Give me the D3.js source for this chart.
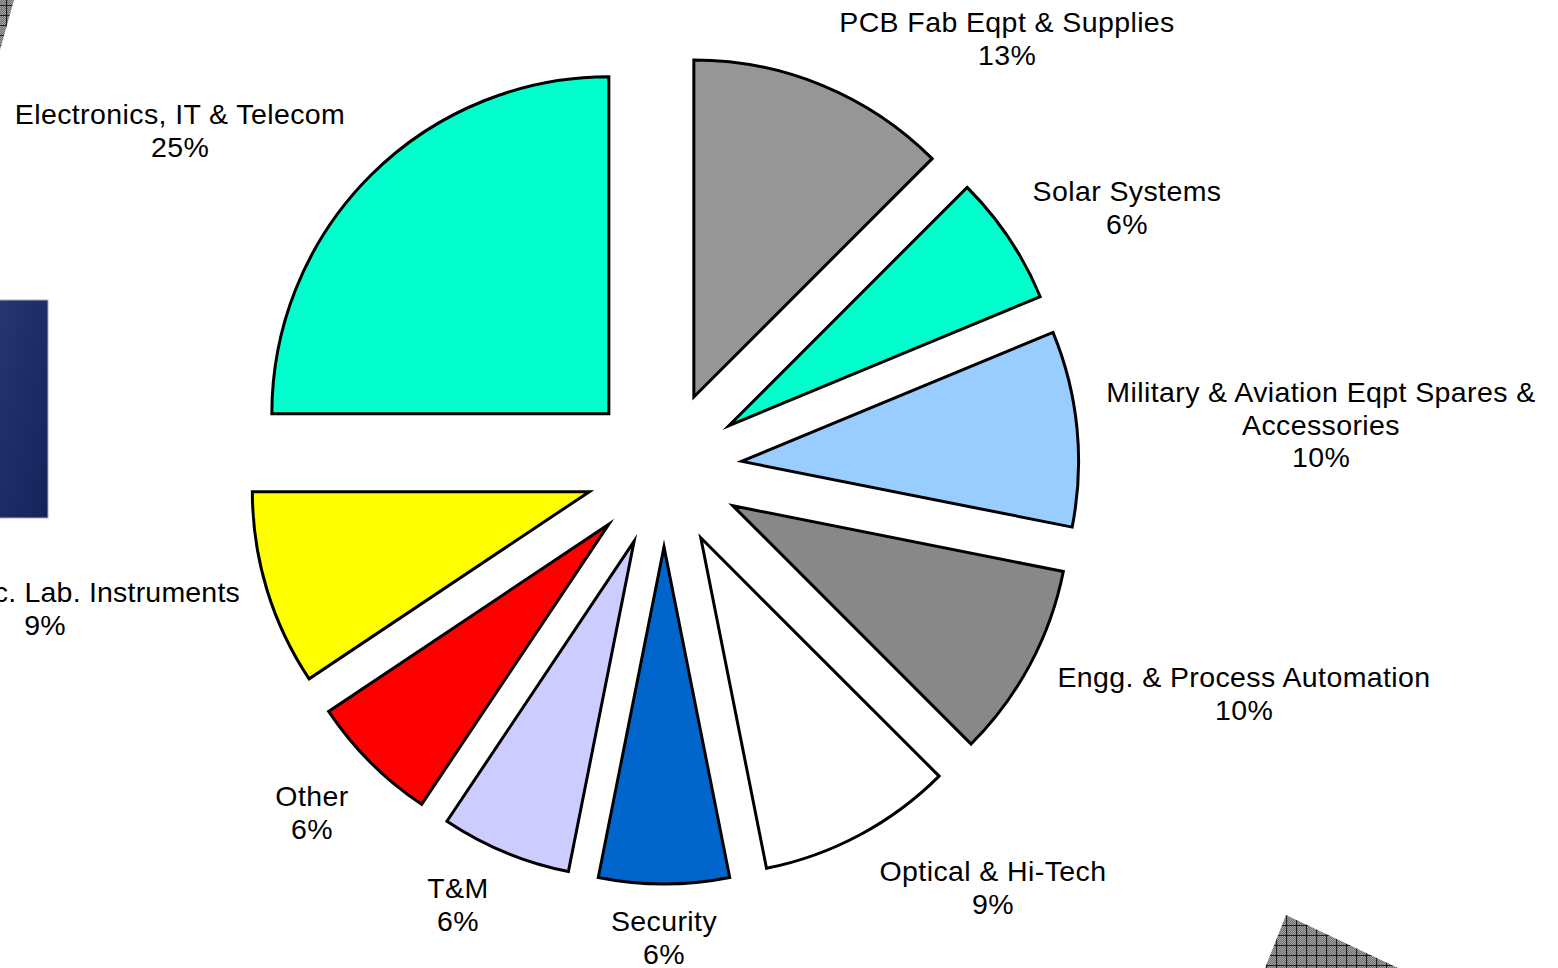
<!DOCTYPE html>
<html>
<head>
<meta charset="utf-8">
<script src="https://cdn.jsdelivr.net/npm/d3@7"></script>
<style>
  html, body { margin: 0; padding: 0; background: #ffffff; overflow: hidden; }
  svg { display: block; }
  text { font-family: "Liberation Sans", Arial, sans-serif; }
</style>
</head>
<body>
<svg id="chart" width="1558" height="968"></svg>
<script>
// ---- data ----
const categories = [
  "PCB Fab Eqpt & Supplies",
  "Solar Systems",
  "Military & Aviation Eqpt Spares & Accessories",
  "Engg. & Process Automation",
  "Optical & Hi-Tech",
  "Security",
  "T&M",
  "Other",
  "c. Lab. Instruments",
  "Electronics, IT & Telecom"
];
const values = [12.5, 6.25, 9.375, 9.375, 9.375, 6.25, 6.25, 6.25, 9.375, 25];
const pctLabels = ["13%", "6%", "10%", "10%", "9%", "6%", "6%", "6%", "9%", "25%"];

// ---- styles & layout ----
const colors = ["#969696", "#00ffcc", "#99ccff", "#888888", "#ffffff",
                "#0066cc", "#ccccff", "#ff0000", "#ffff00", "#00ffcc"];
// label anchor: centre x and first baseline y
const labelLayout = [
  {x: 1007, y: 32},
  {x: 1127, y: 201},
  {x: 1321, y: 402},
  {x: 1244, y: 687},
  {x: 993,  y: 881},
  {x: 664,  y: 931},
  {x: 458,  y: 898},
  {x: 312,  y: 806},
  {x: 45,   y: 602, nameAnchor: "end", nameX: 240, spacing: "0.2px"},
  {x: 180,  y: 124}
];

const W = 1558, H = 968;
const cx = 664, cy = 469, radius = 337, explode = 78;
const fontSize = 28.5, lineH = 32.5, wrapWidth = 445;

const svg = d3.select("#chart");
const defs = svg.append("defs");

// dither + grid hatch pattern for background decorations
const dither = defs.append("pattern").attr("id", "dither")
  .attr("width", 2).attr("height", 2).attr("patternUnits", "userSpaceOnUse");
dither.append("rect").attr("width", 2).attr("height", 2).attr("fill", "#a2a2a2");
dither.append("rect").attr("x", 0).attr("y", 0).attr("width", 1).attr("height", 1).attr("fill", "#6f6f6f");
dither.append("rect").attr("x", 1).attr("y", 1).attr("width", 1).attr("height", 1).attr("fill", "#6f6f6f");

const hatch = defs.append("pattern").attr("id", "hatch")
  .attr("width", 10).attr("height", 10).attr("patternUnits", "userSpaceOnUse")
  .attr("x", 6).attr("y", 5);
hatch.append("rect").attr("width", 10).attr("height", 10).attr("fill", "url(#dither)");
hatch.append("path").attr("d", "M0,0.5H10M0.5,0V10")
  .attr("stroke", "#1e1e1e").attr("stroke-width", 1.2).attr("fill", "none");

const navy = defs.append("linearGradient").attr("id", "navy")
  .attr("x1", 0).attr("y1", 0).attr("x2", 1).attr("y2", 1);
navy.append("stop").attr("offset", 0).attr("stop-color", "#26376f");
navy.append("stop").attr("offset", 0.5).attr("stop-color", "#1e2b66");
navy.append("stop").attr("offset", 1).attr("stop-color", "#15225a");

// background decorations (slide artwork)
const deco = svg.append("g");
deco.append("path").attr("d", "M0,0L14,0L0,50Z").attr("fill", "url(#hatch)");
deco.append("path").attr("d", "M1286,915L1265,968L1398,968Z").attr("fill", "url(#hatch)");
deco.append("rect").attr("x", -1).attr("y", 300).attr("width", 49).attr("height", 218)
  .attr("fill", "url(#navy)").attr("stroke", "#a9b0c6").attr("stroke-width", 1);

// ---- pie ----
const pie = d3.pie().sort(null).value(d => d).startAngle(0).endAngle(2 * Math.PI);
const arcs = pie(values);
const arc = d3.arc().innerRadius(0).outerRadius(radius);

const g = svg.append("g").attr("transform", `translate(${cx},${cy})`);
g.selectAll("path.slice")
  .data(arcs)
  .join("path")
  .attr("class", "slice")
  .attr("d", arc)
  .attr("transform", d => {
    const mid = (d.startAngle + d.endAngle) / 2;
    return `translate(${Math.sin(mid) * explode},${-Math.cos(mid) * explode})`;
  })
  .attr("fill", (d, i) => colors[i])
  .attr("stroke", "#000")
  .attr("stroke-width", 3)
  .attr("stroke-linejoin", "miter")
  .attr("stroke-miterlimit", 12);

// ---- labels ----
const lg = svg.append("g").attr("font-size", fontSize).attr("fill", "#000")
  .attr("letter-spacing", "0.4px");

categories.forEach((name, i) => {
  const L = labelLayout[i];
  const t = lg.append("text").attr("text-anchor", "middle");
  if (L.spacing) t.attr("letter-spacing", L.spacing);
  // wrap name into lines of at most wrapWidth
  const words = name.split(" ");
  const lines = [];
  let cur = [];
  const probe = lg.append("text").attr("visibility", "hidden");
  words.forEach(w => {
    const test = cur.concat([w]).join(" ");
    probe.text(test);
    if (cur.length && probe.node().getComputedTextLength() > wrapWidth) {
      lines.push(cur.join(" "));
      cur = [w];
    } else {
      cur.push(w);
    }
  });
  if (cur.length) lines.push(cur.join(" "));
  probe.remove();
  lines.forEach((ln, k) => {
    const ts = t.append("tspan").attr("y", L.y + k * lineH).text(ln);
    if (L.nameAnchor) ts.attr("x", L.nameX).attr("text-anchor", L.nameAnchor);
    else ts.attr("x", L.x);
  });
  t.append("tspan").attr("x", L.x).attr("y", L.y + lines.length * lineH).text(pctLabels[i]);
});
</script>
</body>
</html>
